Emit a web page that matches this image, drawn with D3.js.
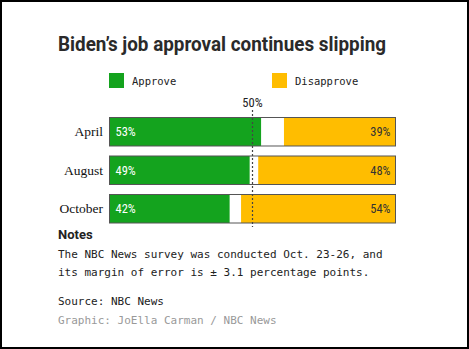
<!DOCTYPE html>
<html><head><meta charset="utf-8">
<script src="https://cdn.jsdelivr.net/npm/d3@7"></script>
<style>
html,body{margin:0;padding:0;background:#fff;}
svg{display:block;}
</style>
</head><body>
<svg id="chart" width="469" height="349"></svg>
<script>
const categories = ["April", "August", "October"];
const approve = [53, 49, 42];
const disapprove = [39, 48, 54];
const seriesNames = ["Approve", "Disapprove"];
const colors = ["#14a31e", "#ffbd00"];
const refValue = 50;
const refLabel = "50%";
const title = "Biden\u2019s job approval continues slipping";
const notesTitle = "Notes";
const notesLines = ["The NBC News survey was conducted Oct. 23-26, and", "its margin of error is \u00b1 3.1 percentage points."];
const source = "Source: NBC News";
const credit = "Graphic: JoElla Carman / NBC News";

const svg = d3.select("#chart");
svg.append("rect").attr("x",1).attr("y",1).attr("width",467).attr("height",347)
  .attr("fill","#fff").attr("stroke","#000").attr("stroke-width",2);

svg.append("text").attr("x",58).attr("y",51).text(title)
  .attr("font-family","Roboto, 'Liberation Sans', sans-serif").attr("font-weight","bold")
  .attr("font-size",20).attr("fill","#2a2a2a").attr("textLength",328).attr("lengthAdjust","spacingAndGlyphs");

// legend
const legX = [109, 272];
seriesNames.forEach((n,i)=>{
  svg.append("rect").attr("x",legX[i]).attr("y",73).attr("width",15).attr("height",15).attr("fill",colors[i]);
  svg.append("text").attr("x",legX[i]+23).attr("y",85).text(n)
    .attr("font-family","'DejaVu Sans Mono', monospace").attr("font-size",10.5).attr("fill","#222");
});

const x = d3.scaleLinear().domain([0,100]).range([109.5,395.5]);
const y = d3.scaleBand().domain(categories).range([117,222.5]).paddingInner(0.26).paddingOuter(0);

const rows = svg.append("g").selectAll("g").data(categories).join("g")
  .attr("transform", d=>`translate(0,${y(d)})`);
const bh = y.bandwidth();

rows.append("rect").attr("x",x(0)).attr("y",0.5).attr("width",x(100)-x(0)).attr("height",bh)
  .attr("fill","#fff");
rows.append("rect").attr("x",x(0)).attr("y",0.5).attr("width",(d,i)=>x(approve[i])-x(0)).attr("height",bh)
  .attr("fill",colors[0]);
rows.append("rect").attr("x",(d,i)=>x(100-disapprove[i])).attr("y",0.5).attr("width",(d,i)=>x(100)-x(100-disapprove[i])).attr("height",bh)
  .attr("fill",colors[1]);
rows.append("rect").attr("x",x(0)).attr("y",0.5).attr("width",x(100)-x(0)).attr("height",bh)
  .attr("fill","none").attr("stroke","#555").attr("stroke-width",1);

rows.append("text").attr("x",x(0)+6).attr("y",bh/2+5).text((d,i)=>approve[i]+"%")
  .attr("font-family","'Liberation Sans Narrow', 'Roboto Condensed', Roboto, sans-serif").attr("font-size",12.5).attr("fill","#fff");
rows.append("text").attr("x",x(100)-5).attr("y",bh/2+5).attr("text-anchor","end").text((d,i)=>disapprove[i]+"%")
  .attr("font-family","'Liberation Sans Narrow', 'Roboto Condensed', Roboto, sans-serif").attr("font-size",12.5).attr("fill","#333");
rows.append("text").attr("x",103).attr("y",bh/2+5).attr("text-anchor","end").text(d=>d)
  .attr("font-family","'Liberation Serif', 'DejaVu Serif', serif").attr("font-size",13.5).attr("fill","#111");

// reference line
svg.append("line").attr("x1",x(refValue)).attr("x2",x(refValue)).attr("y1",110).attr("y2",227)
  .attr("stroke","#444").attr("stroke-width",1.2).attr("stroke-dasharray","2,2");
svg.append("text").attr("x",x(refValue)).attr("y",107).attr("text-anchor","middle").text(refLabel)
  .attr("font-family","'Liberation Sans Narrow', 'Roboto Condensed', Roboto, sans-serif").attr("font-size",12.5).attr("fill","#222");

// notes
svg.append("text").attr("x",58).attr("y",239).text(notesTitle)
  .attr("font-family","Roboto, 'Liberation Sans', sans-serif").attr("font-weight","bold").attr("font-size",13).attr("fill","#222");
notesLines.forEach((l,i)=>{
  svg.append("text").attr("x",58).attr("y",258+i*18).text(l)
    .attr("font-family","'DejaVu Sans Mono', monospace").attr("font-size",11).attr("fill","#222");
});
svg.append("text").attr("x",58).attr("y",305).text(source)
  .attr("font-family","'DejaVu Sans Mono', monospace").attr("font-size",11).attr("fill","#222");
svg.append("text").attr("x",58).attr("y",324).text(credit)
  .attr("font-family","'DejaVu Sans Mono', monospace").attr("font-size",11).attr("fill","#999");
</script>
</body></html>
